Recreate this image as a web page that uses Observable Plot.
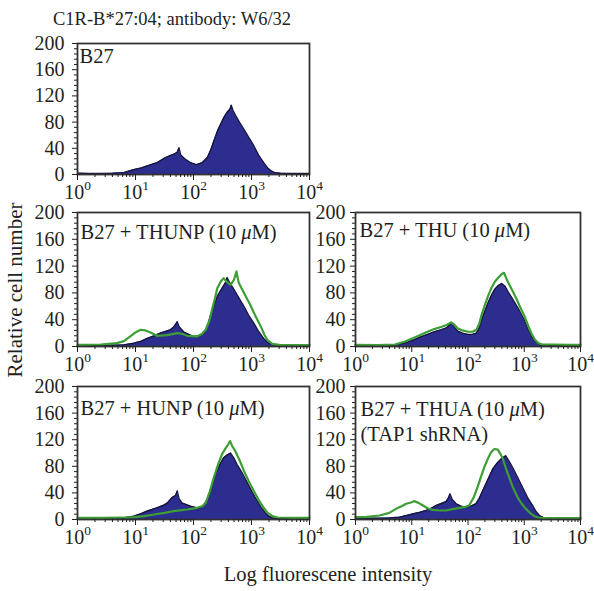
<!DOCTYPE html>
<html><head><meta charset="utf-8">
<script src="https://cdn.jsdelivr.net/npm/d3@7"></script>
<script src="https://cdn.jsdelivr.net/npm/@observablehq/plot@0.6"></script>
<style>
body{margin:0;background:#fff;}
#wrap{position:relative;width:594px;height:591px;font-family:"Liberation Serif","DejaVu Serif",serif;color:#231f20;overflow:hidden;}
.abs{position:absolute;white-space:nowrap;line-height:1;}
</style></head><body><div id="wrap"></div>
<script>
// ---- data: [log10(fluorescence), relative cell number] ----
const p1Blue = [[0,2],[0.2,1.5],[0.4,1.5],[0.6,2],[0.8,3],[0.97,7.5],[1.1,10],[1.2,13],[1.37,18],[1.5,25],[1.6,29],[1.66,31],[1.72,34],[1.75,41],[1.78,30],[1.85,24],[1.95,18],[2.05,15],[2.15,18],[2.24,26],[2.3,38],[2.35,51],[2.42,68],[2.47,77],[2.53,88],[2.58,95],[2.63,100],[2.65,106],[2.68,98],[2.72,91],[2.8,79],[2.87,69],[2.95,57],[3.04,44],[3.12,30],[3.21,18],[3.28,10],[3.33,6],[3.4,3],[3.5,2],[3.7,1.5],[4,1.5]];

const p2Blue = [[0,2],[0.4,1.5],[0.8,2.5],[0.97,5],[1.1,8],[1.2,12],[1.32,16],[1.43,20],[1.6,25],[1.66,29],[1.69,33],[1.72,37],[1.75,30],[1.83,22],[1.92,18],[2.0,15],[2.1,16],[2.18,20],[2.24,30],[2.29,45],[2.35,60],[2.41,75],[2.5,88],[2.55,95],[2.58,103],[2.62,96],[2.7,85],[2.78,73],[2.87,60],[2.95,47],[3.04,35],[3.12,23],[3.21,12],[3.28,6],[3.33,4],[3.45,2],[4,1.5]];
const p2Green = [[0,2.5],[0.4,3],[0.68,5],[0.8,8],[0.91,15],[1.0,21],[1.09,25],[1.17,24],[1.26,21],[1.37,16],[1.55,17],[1.72,20],[1.8,19],[1.89,16],[2.06,15],[2.15,19],[2.21,25],[2.27,38],[2.32,55],[2.37,72],[2.41,87],[2.47,97],[2.52,102],[2.58,96],[2.64,92],[2.7,100],[2.74,112],[2.78,95],[2.84,85],[2.9,75],[2.98,62],[3.07,45],[3.16,30],[3.22,18],[3.27,10],[3.36,4],[3.5,2],[4,2]];

const p3Blue = [[0,2],[0.4,1.5],[0.7,2.5],[0.87,5],[1.04,10],[1.15,14],[1.28,18],[1.4,22],[1.52,25],[1.62,28],[1.68,33],[1.71,36],[1.75,30],[1.82,23],[1.9,20],[2.0,18],[2.08,18],[2.15,20],[2.2,28],[2.24,40],[2.3,53],[2.36,66],[2.42,77],[2.48,86],[2.54,91],[2.6,94],[2.66,90],[2.72,81],[2.8,70],[2.9,56],[3.0,40],[3.07,25],[3.13,15],[3.19,8],[3.28,2.5],[3.5,1.5],[4,1.5]];
const p3Green = [[0,2.5],[0.4,2],[0.7,3],[0.87,7],[1.04,13],[1.15,17],[1.28,22],[1.4,26],[1.52,29],[1.62,32],[1.7,36],[1.75,33],[1.82,27],[1.9,24],[2.0,22],[2.08,22],[2.15,25],[2.2,34],[2.24,47],[2.3,62],[2.36,76],[2.42,88],[2.48,97],[2.54,103],[2.6,108],[2.64,110],[2.7,98],[2.76,88],[2.84,75],[2.92,60],[3.0,46],[3.07,31],[3.13,19],[3.19,10],[3.25,5],[3.32,3],[3.5,3],[3.8,2.5],[4,2.5]];

const p4Blue = [[0,2],[0.4,2],[0.8,2.5],[0.97,5],[1.1,9],[1.2,12.6],[1.37,17.6],[1.5,22],[1.55,25],[1.63,33],[1.69,36],[1.72,43],[1.75,32],[1.8,25],[1.95,20],[2.05,18],[2.12,17.6],[2.18,22],[2.24,30],[2.3,45],[2.38,68],[2.45,82],[2.52,93],[2.58,97],[2.64,100],[2.7,92],[2.75,83],[2.84,70],[2.93,55],[3.02,40],[3.1,28],[3.17,18],[3.24,10],[3.3,5],[3.36,2.5],[3.5,1.5],[4,1.5]];
const p4Green = [[0,2.5],[0.4,2.5],[0.8,3],[0.97,3.5],[1.15,5],[1.32,7.5],[1.5,10],[1.66,12.6],[1.8,14],[1.89,15],[2.06,17.6],[2.15,20],[2.21,25],[2.28,42],[2.35,63],[2.42,82],[2.49,98],[2.56,108],[2.6,113],[2.63,118],[2.67,110],[2.72,103],[2.8,88],[2.87,73],[2.95,58],[3.04,43],[3.12,30],[3.21,17.6],[3.28,10],[3.36,5],[3.45,3],[3.7,2.5],[4,2.5]];

const p5Blue = [[0,2],[0.4,2],[0.6,2.5],[0.78,3.5],[0.9,6],[1.02,8.5],[1.15,11],[1.25,13.5],[1.35,17],[1.43,21],[1.52,24],[1.61,27],[1.65,32],[1.68,38.6],[1.72,30],[1.79,23.6],[1.88,20],[1.96,18.5],[2.05,20],[2.14,23.6],[2.2,32],[2.29,48.6],[2.37,63],[2.44,76],[2.52,85],[2.59,91],[2.67,96],[2.73,88],[2.79,79],[2.88,64],[2.97,48.6],[3.06,33],[3.15,21],[3.21,12],[3.27,6],[3.36,2],[3.6,1.5],[4,1.5]];
const p5Green = [[0,3.5],[0.2,4],[0.43,6],[0.6,10],[0.72,16],[0.82,20],[0.9,23.6],[1.0,26],[1.05,27.6],[1.12,25],[1.2,21],[1.28,17],[1.37,14.5],[1.5,13.5],[1.61,13.5],[1.75,16],[1.85,17.5],[1.95,19],[2.02,21],[2.1,33],[2.17,48.6],[2.23,64],[2.29,78.7],[2.35,91],[2.41,101],[2.47,106],[2.53,105],[2.58,98],[2.62,91],[2.67,78],[2.73,63.7],[2.8,48],[2.88,33.6],[2.95,24],[3.03,16],[3.1,10],[3.18,5],[3.25,3],[3.33,2],[3.6,2],[4,2]];

const panelLabels = ["B27", "B27 + THUNP (10 μM)", "B27 + THU (10 μM)", "B27 + HUNP (10 μM)", "B27 + THUA (10 μM)\n(TAP1 shRNA)"];
const yTicks = [0, 40, 80, 120, 160, 200];
const xTicks = [1, 10, 100, 1000, 10000];
const titleText = "C1R-B*27:04; antibody: W6/32";
const yTitle = "Relative cell number";
const xTitle = "Log fluorescene intensity";

// ---- drawing ----
const NS = "http://www.w3.org/2000/svg";
const BLUE = "#2c2d8f", OUTLINE = "#15153a", GREEN = "#3c9e34", INK = "#231f20";
const FONT = '"Liberation Serif", "DejaVu Serif", serif';
const ML = 56, MR = 16, MT = 4, MB = 32;
const yMinor = d3.range(0, 201, 8).filter(v => v % 40 !== 0);
const xMinor = [1, 10, 100, 1000].flatMap(b => [2,3,4,5,6,7,8,9].map(m => m * b));
const wrap = document.getElementById("wrap");

function fixText(svg) {
  svg.querySelectorAll("text, tspan").forEach(el => {
    if (el.children.length) return;
    const t = el.textContent;
    const m = /^10\^(\d)$/.exec(t);
    if (m) {
      el.textContent = "10";
      const s = document.createElementNS(NS, "tspan");
      s.setAttribute("dy", "-9"); s.setAttribute("font-size", "13.5");
      s.textContent = m[1];
      el.appendChild(s);
      return;
    }
    if (t.includes("μ")) {
      const parts = t.split("μ");
      el.textContent = "";
      parts.forEach((p, i) => {
        if (i > 0) {
          const s = document.createElementNS(NS, "tspan");
          s.setAttribute("font-style", "italic");
          s.textContent = "μ";
          el.appendChild(s);
        }
        el.appendChild(document.createTextNode(p));
      });
    }
  });
}

function panel({blue, green, label, left, top, w, h, dx, dy, pad}) {
  const X = d => 10 ** d[0], Y = d => d[1];
  const marks = [
    Plot.areaY(blue, {x: X, y: Y, fill: BLUE}),
    Plot.lineY(blue, {x: X, y: Y, stroke: OUTLINE, strokeWidth: 1.3}),
  ];
  if (green) marks.push(Plot.lineY(green, {x: X, y: Y, stroke: GREEN, strokeWidth: 2.2}));
  marks.push(
    Plot.frame({stroke: "#333", strokeWidth: 1.8}),
    Plot.axisY(yTicks, {anchor: "left", tickSize: 5, tickPadding: pad, fontSize: 20, label: null}),
    Plot.axisY(yMinor, {anchor: "left", tickSize: 3, fill: "none", label: null}),
    Plot.axisX(xTicks, {anchor: "bottom", tickSize: 6, tickPadding: 4, fontSize: 20, label: null,
      tickFormat: d => `10^${Math.round(Math.log10(d))}`}),
    Plot.axisX(xMinor, {anchor: "bottom", tickSize: 3, fill: "none", label: null}),
    Plot.text([label], {frameAnchor: "top-left", text: d => d, dx, dy, fontSize: 20.5,
      textAnchor: "start", lineAnchor: "top", lineHeight: 1.25, fill: INK})
  );
  const svg = Plot.plot({
    width: w + ML + MR, height: h + MT + MB,
    marginLeft: ML, marginRight: MR, marginTop: MT, marginBottom: MB,
    x: {type: "log", domain: [1, 1e4], label: null},
    y: {domain: [0, 200], label: null},
    style: {fontFamily: FONT, fontSize: "20px", background: "transparent", color: INK, overflow: "visible"},
    marks
  });
  fixText(svg);
  svg.style.position = "absolute";
  svg.style.left = (left - ML) + "px";
  svg.style.top = (top - MT) + "px";
  wrap.appendChild(svg);
}

panel({blue: p1Blue, label: panelLabels[0], left: 77, top: 43, w: 232, h: 131, dx: 2, dy: 1, pad: 8});
panel({blue: p2Blue, green: p2Green, label: panelLabels[1], left: 77, top: 212, w: 232, h: 134, dx: 3, dy: 8, pad: 8});
panel({blue: p3Blue, green: p3Green, label: panelLabels[2], left: 355, top: 212, w: 225, h: 134, dx: 4, dy: 6, pad: 5});
panel({blue: p4Blue, green: p4Green, label: panelLabels[3], left: 77, top: 386, w: 232, h: 133, dx: 3, dy: 10, pad: 8});
panel({blue: p5Blue, green: p5Green, label: panelLabels[4], left: 355, top: 386, w: 225, h: 133, dx: 5, dy: 11, pad: 5});

function addText(txt, css) {
  const d = document.createElement("div");
  d.className = "abs";
  d.textContent = txt;
  Object.assign(d.style, css);
  wrap.appendChild(d);
}
addText(titleText, {left: "53px", top: "10px", fontSize: "18.5px"});
addText(yTitle, {left: "15px", top: "290px", fontSize: "21px", transform: "translate(-50%,-50%) rotate(-90deg)"});
addText(xTitle, {left: "328px", top: "564px", fontSize: "20.5px", transform: "translateX(-50%)"});
</script></body></html>
